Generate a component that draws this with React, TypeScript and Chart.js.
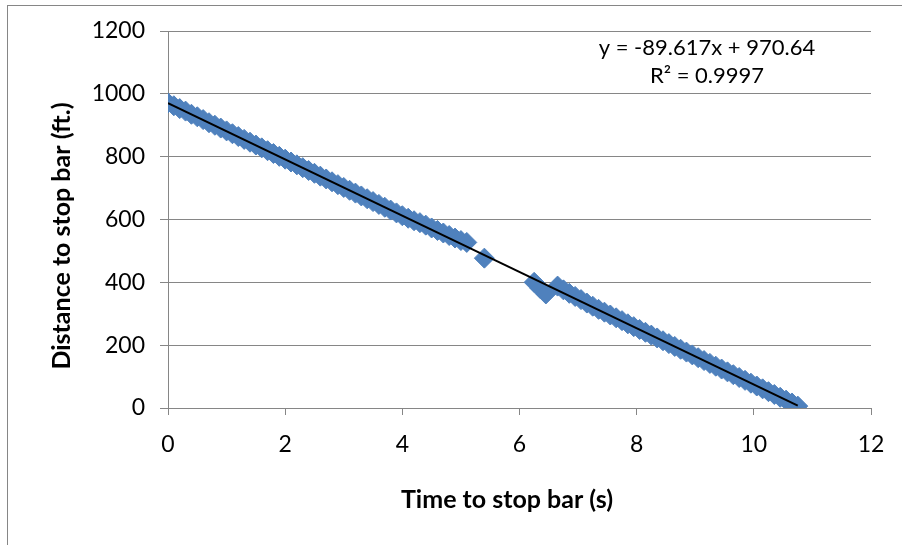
import React, { useEffect, useRef } from "react";
import { Chart, registerables } from "chart.js";

Chart.register(...registerables);

// Observed data (time to stop bar in s, distance to stop bar in ft)
const timeA = [
  0.0, 0.1, 0.2, 0.3, 0.4, 0.5, 0.6, 0.7, 0.8, 0.9,
  1.0, 1.1, 1.2, 1.3, 1.4, 1.5, 1.6, 1.7, 1.8, 1.9,
  2.0, 2.1, 2.2, 2.3, 2.4, 2.5, 2.6, 2.7, 2.8, 2.9,
  3.0, 3.1, 3.2, 3.3, 3.4, 3.5, 3.6, 3.7, 3.8, 3.9,
  4.0, 4.1, 4.2, 4.3, 4.4, 4.5, 4.6, 4.7, 4.8, 4.9,
  5.0, 5.1, 5.4,
];
const distA = [
  971, 962, 953, 945, 935, 927, 918, 908, 900, 891,
  882, 873, 864, 855, 846, 837, 828, 819, 810, 801,
  792, 783, 774, 765, 756, 747, 738, 729, 720, 711,
  702, 693, 684, 675, 666, 657, 648, 639, 630, 621,
  612, 604, 596, 590, 582, 573, 565, 557, 549, 541,
  533, 527, 477,
];
const timeB = [
  6.25, 6.35, 6.45, 6.65, 6.75, 6.85, 6.95, 7.05, 7.15, 7.25,
  7.35, 7.45, 7.55, 7.65, 7.75, 7.85, 7.95, 8.05, 8.15, 8.25,
  8.35, 8.45, 8.55, 8.65, 8.75, 8.85, 8.95, 9.05, 9.15, 9.25,
  9.35, 9.45, 9.55, 9.65, 9.75, 9.85, 9.95, 10.05, 10.15, 10.25,
  10.35, 10.45, 10.55, 10.65, 10.75,
];
const distB = [
  400, 381, 363, 388, 376, 365, 355, 345, 334, 324,
  314, 305, 296, 287, 278, 268, 259, 250, 241, 232,
  223, 214, 205, 196, 187, 178, 169, 160, 151, 142,
  133, 124, 115, 106, 97, 88, 79, 70, 61, 52,
  43, 34, 25, 16, 6,
];

// Linear trendline as displayed on the chart
const trendSlope = -89.617;
const trendIntercept = 970.64;
const trendRange = [0, 10.75];

const xTicks = [0, 2, 4, 6, 8, 10, 12];
const yTicks = [0, 200, 400, 600, 800, 1000, 1200];

const xTitle = "Time to stop bar (s)";
const yTitle = "Distance to stop bar (ft.)";
const eqLine1 = "y = -89.617x + 970.64";
const eqLine2 = "R² = 0.9997";

const FONT = "Lato, 'Open Sans', sans-serif";
const AXIS = "#868686";
const BLUE = "#4F81BD";

export default function App() {
  const ref = useRef<HTMLCanvasElement | null>(null);

  useEffect(() => {
    if (!ref.current) return;
    const points = [
      ...timeA.map((t, i) => ({ x: t, y: distA[i] })),
      ...timeB.map((t, i) => ({ x: t, y: distB[i] })),
    ];
    const trend = trendRange.map((t) => ({ x: t, y: trendIntercept + trendSlope * t }));

    const textPlugin = {
      id: "texts",
      afterDraw(chart: any) {
        const ctx = chart.ctx;
        ctx.save();
        ctx.fillStyle = "#000";
        ctx.textAlign = "center";
        ctx.textBaseline = "middle";
        ctx.font = `bold 25px ${FONT}`;
        ctx.fillText(xTitle, 507, 500);
        ctx.save();
        ctx.translate(62, 236);
        ctx.rotate(-Math.PI / 2);
        ctx.fillText(yTitle, 0, 0);
        ctx.restore();
        ctx.font = `22px ${FONT}`;
        ctx.fillText(eqLine1, 707, 48);
        ctx.fillText(eqLine2, 707, 76);
        ctx.restore();
      },
    };

    const chart = new Chart(ref.current, {
      type: "scatter",
      data: {
        datasets: [
          {
            label: "Trend",
            type: "line",
            data: trend,
            borderColor: "#000",
            borderWidth: 2,
            pointRadius: 0,
            showLine: true,
            fill: false,
            order: 0,
          } as any,
          {
            label: "Observed",
            data: points,
            pointStyle: "rectRot",
            pointRadius: 10,
            pointBackgroundColor: BLUE,
            pointBorderColor: BLUE,
            pointBorderWidth: 1,
            order: 1,
          },
        ],
      },
      options: {
        animation: false,
        responsive: false,
        maintainAspectRatio: false,
        layout: { padding: { top: 31, right: 31, left: 0, bottom: 0 } },
        plugins: {
          legend: { display: false },
          tooltip: { enabled: false },
        },
        scales: {
          x: {
            type: "linear",
            min: 0,
            max: 12,
            afterBuildTicks: (s: any) => {
              s.ticks = xTicks.map((v) => ({ value: v }));
            },
            afterFit: (s: any) => {
              s.height = 137;
            },
            ticks: {
              color: "#000",
              font: { family: FONT, size: 23 },
              padding: 16,
              maxRotation: 0,
              callback: (v: any) => String(v),
            },
            grid: {
              drawOnChartArea: false,
              drawTicks: true,
              tickLength: 7,
              color: AXIS,
            },
            border: { display: true, color: AXIS, width: 1 },
          },
          y: {
            type: "linear",
            min: 0,
            max: 1200,
            afterBuildTicks: (s: any) => {
              s.ticks = yTicks.map((v) => ({ value: v }));
            },
            afterFit: (s: any) => {
              s.width = 168;
            },
            ticks: {
              color: "#000",
              font: { family: FONT, size: 23 },
              padding: 15,
              callback: (v: any) => String(v),
            },
            grid: {
              drawOnChartArea: true,
              drawTicks: true,
              tickLength: 8,
              color: AXIS,
            },
            border: { display: true, color: AXIS, width: 1 },
          },
        },
      },
      plugins: [textPlugin],
    });
    return () => chart.destroy();
  }, []);

  return (
    <div
      style={{
        position: "absolute",
        left: 0,
        top: 0,
        width: 902,
        height: 545,
        overflow: "hidden",
        background: "#fff",
      }}
    >
      <div
        style={{
          position: "absolute",
          left: 7,
          top: 5,
          width: 1200,
          height: 1200,
          border: `1px solid ${AXIS}`,
          boxSizing: "border-box",
        }}
      />
      <canvas
        ref={ref}
        width={902}
        height={545}
        style={{ position: "absolute", left: 0, top: 0, width: 902, height: 545 }}
      />
    </div>
  );
}
